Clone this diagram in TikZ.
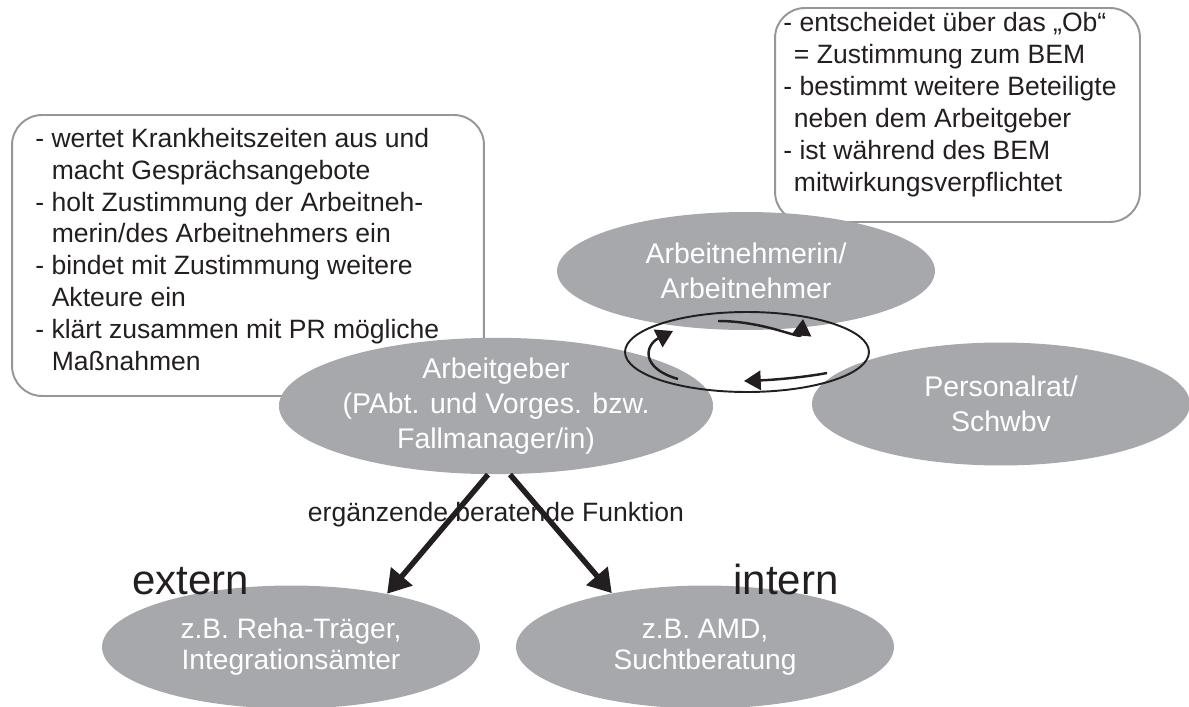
\documentclass[tikz,border=0pt]{standalone}
\usepackage{fontspec}
\setmainfont{Liberation Sans}
\usetikzlibrary{positioning, arrows.meta, shapes.geometric}
\definecolor{bemGray}{RGB}{167,168,172}
\definecolor{boxGray}{RGB}{150,150,150}
\definecolor{inkBlack}{RGB}{35,31,32}
\newcommand{\cont}[1][0.62em]{\hspace*{#1}}

\begin{document}
\begin{tikzpicture}[
  x=0.02cm, y=-0.02cm,
  actor/.style={ellipse, fill=bemGray, text=white, inner sep=0pt, align=center,
    minimum width=7.56cm, minimum height=2.46cm, font=\fontsize{16.2}{19.9}\selectfont},
  note/.style={draw=boxGray, line width=1.1pt, rounded corners=0.6cm, fill=white},
  notetext/.style={anchor=west, align=left, inner sep=0pt, text=inkBlack,
    font=\fontsize{15.1}{18.2}\selectfont},
  sidelabel/.style={anchor=base west, inner sep=0pt, text=inkBlack, font=\fontsize{23.9}{28}\selectfont},
  cyclearrow/.style={inkBlack, line width=1.4pt, -{Triangle[length=9.5pt, width=11pt]}},
  aidarrow/.style={inkBlack, line width=3.1pt, -{Triangle[length=13pt, width=15.5pt]}},
]
  \useasboundingbox (0,0) rectangle (1189,706);

  \node[note, minimum width=9.44cm, minimum height=5.62cm] (agBox) at (248,255.5) {};
  \node[notetext] (agText) at (35,249.5)
    {- wertet Krankheitszeiten aus und\\ \cont macht Gesprächsangebote\\
     - holt Zustimmung der Arbeitneh-\\ \cont merin/des Arbeitnehmers ein\\
     - bindet mit Zustimmung weitere\\ \cont Akteure ein\\
     - klärt zusammen mit PR mögliche\\ \cont Maßnahmen};
  \node[note, minimum width=7.3cm, minimum height=4.28cm] (anBox) at (957.5,115) {};
  \node[notetext] (anText) at (783,105)
    {- entscheidet über das „Ob“\\ \cont[0.4em]= Zustimmung zum BEM\\
     - bestimmt weitere Beteiligte\\ \cont[0.4em]neben dem Arbeitgeber\\
     - ist während des BEM\\ \cont[0.4em]mitwirkungsverpflichtet};

  \node[actor, minimum height=2.36cm] (an) at (746,271) {Arbeitnehmerin/\\Arbeitnehmer};
  \node[actor] (ag) at (496,406) {Arbeitgeber\\(PAbt. und Vorges. bzw.\\Fallmanager/in)};
  \node[actor] (pr) at (1001,404) {Personalrat/\\Schwbv};
  \node[actor, font=\fontsize{16}{17.5}\selectfont] (ext) at (291,647) {z.B. Reha-Träger,\\Integrationsämter};
  \node[actor, font=\fontsize{16}{17.5}\selectfont] (int) at (705,647) {z.B. AMD,\\Suchtberatung};

  \node[ellipse, draw=inkBlack, line width=1.1pt, inner sep=0pt,
    minimum width=4.88cm, minimum height=1.6cm] (ring) at (747,352) {};
  \draw[cyclearrow] (718,321) .. controls (765,321) and (801,340) .. (803,319);
  \draw[cyclearrow] (678,379) .. controls (640,368) and (645,345) .. (673,331);
  \draw[cyclearrow] (827,373) .. controls (800,378) and (770,380) .. (744,381);

  \draw[aidarrow] ([xshift=-0.16cm]ag.south) -- (ext.29);
  \draw[aidarrow] ([xshift=0.28cm]ag.south) -- (int.150);
  \node[text=inkBlack, font=\fontsize{15.1}{18}\selectfont] (aidText) at (496,515)
    {ergänzende beratende Funktion};
  \node[sidelabel] (extLabel) at (132,594) {extern};
  \node[sidelabel] (intLabel) at (733,594) {intern};
\end{tikzpicture}
\end{document}
